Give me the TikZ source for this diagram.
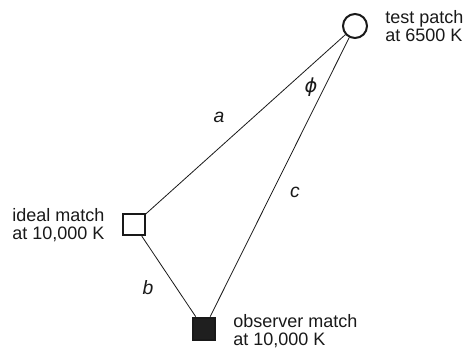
\documentclass[tikz,border=0pt]{standalone}
\usepackage{fontspec}
\setmainfont{Liberation Sans}
\newfontfamily\greekfont{DejaVu Sans}
\usetikzlibrary{positioning}

\begin{document}
\begin{tikzpicture}[x=0.75pt,y=0.75pt,yscale=-1,xscale=1]
\tikzset{
  patch/.style={draw=black!90, line width=1.5pt, inner sep=0pt},
  caption/.style={anchor=west, inner sep=0pt, align=left, text=black!90,
    font=\fontsize{13.5}{13.8}\selectfont},
  sidelabel/.style={inner sep=0pt, text=black!90, font=\fontsize{14.5}{14.5}\selectfont\itshape},
  side/.style={draw=black!90, line width=0.6pt}
}
\useasboundingbox (0,0) rectangle (465,350);

%Shape: Circle
\node [patch, circle, minimum size=18pt] (test) at (355,26) {};
%Shape: Square
\node [patch, rectangle, minimum size=16pt] (ideal) at (134,224.5) {};
%Shape: Filled Square
\node [patch, rectangle, fill=black!88, minimum size=17pt] (observer) at (204,329) {};

%Straight Lines
\draw [side] (test) -- (ideal) ;
\draw [side] (test) -- (observer) ;
\draw [side] (ideal) -- (observer) ;

% Text Node
\node [caption] (testtext) at (385,26) {test patch\\at 6500 K};
% Text Node
\node [caption] (idealtext) at (12,225) {ideal match\\at 10,000 K};
% Text Node
\node [caption] (observertext) at (233,331) {observer match\\at 10,000 K};
% Text Node
\node [sidelabel] (alabel) at (219,117) {a};
% Text Node
\node [sidelabel] (blabel) at (148,288) {b};
% Text Node
\node [sidelabel] (clabel) at (295,192) {c};
% Text Node
\node [sidelabel, font=\fontsize{14.5}{14.5}\selectfont\greekfont\itshape] (philabel) at (311,87) {ϕ};

\end{tikzpicture}
\end{document}
